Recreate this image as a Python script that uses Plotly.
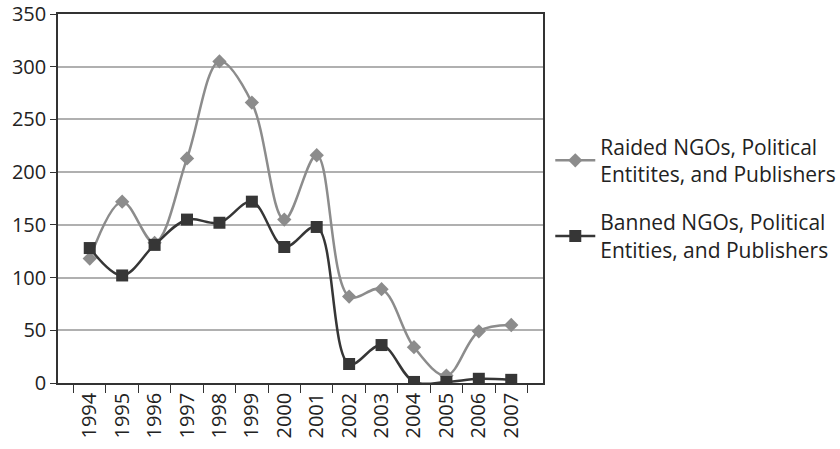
import plotly.graph_objects as go

years = ["1994", "1995", "1996", "1997", "1998", "1999", "2000",
         "2001", "2002", "2003", "2004", "2005", "2006", "2007"]
raided = [118, 172, 133, 213, 305, 266, 155, 216, 82, 89, 34, 7, 49, 55]
banned = [128, 102, 131, 155, 152, 172, 129, 148, 18, 36, 1, 1, 4, 3]
y_ticks = [0, 50, 100, 150, 200, 250, 300, 350]

raided_name = "Raided NGOs, Political<br>Entitites, and Publishers"
banned_name = "Banned NGOs, Political<br>Entities, and Publishers"

fig = go.Figure()
fig.add_trace(go.Scatter(
    x=years, y=raided, name=raided_name, mode="lines+markers", legendgroup="a",
    line=dict(color="#8c8c8c", width=2.5, shape="spline", smoothing=1.0),
    marker=dict(symbol="diamond", size=11, color="#8c8c8c"),
))
fig.add_trace(go.Scatter(
    x=years, y=banned, name=banned_name, mode="lines+markers", legendgroup="b",
    line=dict(color="#363636", width=2.5, shape="spline", smoothing=1.0),
    marker=dict(symbol="square", size=12, color="#363636"),
))

fig.update_layout(
    width=840, height=449,
    margin=dict(l=58, r=297, t=14, b=66, autoexpand=False),
    paper_bgcolor="white", plot_bgcolor="white",
    font=dict(family="Open Sans, Noto Sans, sans-serif", size=20, color="#222222"),
    legend=dict(x=1.015, y=0.5, xanchor="left", yanchor="middle",
                bgcolor="rgba(0,0,0,0)", traceorder="grouped",
                font=dict(size=21), tracegroupgap=18, itemwidth=40),
    showlegend=True,
)
fig.update_xaxes(
    type="category", tickangle=-90, tickson="boundaries", ticks="outside",
    ticklen=8, tickcolor="#333", showline=True, linecolor="#333", linewidth=1.5,
    mirror=True, showgrid=False, tickfont=dict(size=20), automargin=False,
)
fig.update_yaxes(
    range=[0, 350], tickvals=y_ticks, ticks="outside", ticklen=6,
    tickcolor="#333", showline=True, linecolor="#333", linewidth=1.5,
    mirror=True, showgrid=True, gridcolor="#b0b0b0", gridwidth=1.5,
    zeroline=False, tickfont=dict(size=20), automargin=False,
)

fig.write_html("out.html", config={"displayModeBar": False},
               post_script="document.body.style.margin='0';")
